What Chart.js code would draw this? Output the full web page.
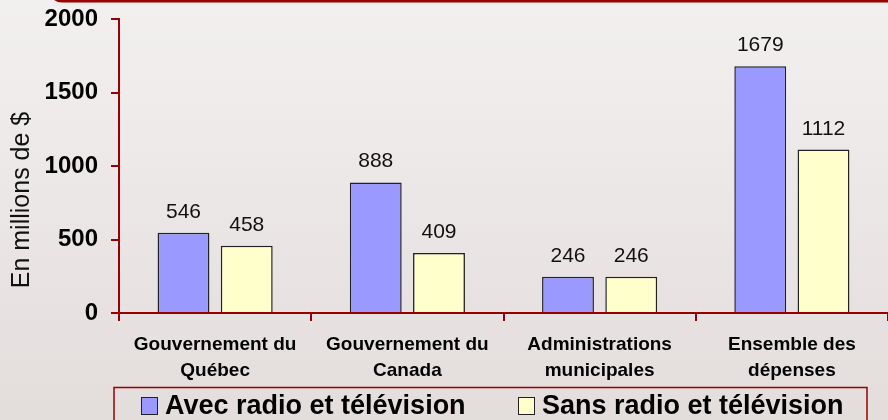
<!DOCTYPE html>
<html>
<head>
<meta charset="utf-8">
<script src="https://cdn.jsdelivr.net/npm/chart.js@4/dist/chart.umd.min.js"></script>
<style>
  html, body { margin: 0; padding: 0; }
  body {
    width: 888px; height: 420px; overflow: hidden;
    background: linear-gradient(#f2f0ef, #e3dddc);
  }
  #wrap { position: relative; width: 888px; height: 420px; }
</style>
</head>
<body>
<div id="wrap"><canvas id="chart" width="888" height="420"></canvas></div>
<script>
// Data
const categories = [
    ["Gouvernement du", "Québec"],
    ["Gouvernement du", "Canada"],
    ["Administrations", "municipales"],
    ["Ensemble des", "dépenses"]
];
const avecRadioTele = [546, 888, 246, 1679];
const sansRadioTele = [458, 409, 246, 1112];
const seriesNames = ["Avec radio et télévision", "Sans radio et télévision"];
const yTicks = [0, 500, 1000, 1500, 2000];
const yTitle = "En millions de $";

const axisRed = "#990000";
const fontFamily = "Arial, 'Liberation Sans', sans-serif";

// value labels above each bar
const valueLabels = {
    id: "valueLabels",
    afterDatasetsDraw(chart) {
        const ctx = chart.ctx;
        ctx.save();
        ctx.font = "21px " + fontFamily;
        ctx.fillStyle = "#111";
        ctx.textAlign = "center";
        ctx.textBaseline = "alphabetic";
        chart.data.datasets.forEach((ds, i) => {
            chart.getDatasetMeta(i).data.forEach((bar, j) => {
                ctx.fillText(ds.data[j], bar.x, bar.y - 15);
            });
        });
        ctx.restore();
    }
};

// y title, legend box and top frame edge
const decorations = {
    id: "decorations",
    afterDraw(chart) {
        const ctx = chart.ctx;
        ctx.save();

        // frame edge at the top
        ctx.strokeStyle = axisRed;
        ctx.lineWidth = 3;
        ctx.beginPath();
        ctx.roundRect(50, -40, 860, 41, 12);
        ctx.stroke();

        // y axis title
        ctx.translate(22, 200);
        ctx.rotate(-Math.PI / 2);
        ctx.font = "25px " + fontFamily;
        ctx.fillStyle = "#111";
        ctx.textAlign = "center";
        ctx.textBaseline = "middle";
        ctx.fillText(yTitle, 0, 0);
        ctx.setTransform(1, 0, 0, 1, 0, 0);

        // legend box
        ctx.strokeStyle = axisRed;
        ctx.lineWidth = 1.5;
        ctx.strokeRect(114, 387.5, 753, 60);

        const itemX = [141, 518];
        ctx.font = "bold 27px " + fontFamily;
        ctx.textAlign = "left";
        ctx.textBaseline = "middle";
        chart.data.datasets.forEach((ds, i) => {
            const x = itemX[i];
            ctx.fillStyle = ds.backgroundColor;
            ctx.fillRect(x, 397, 16, 17);
            ctx.strokeStyle = "#222";
            ctx.lineWidth = 1;
            ctx.strokeRect(x + 0.5, 397.5, 16, 17);
            ctx.fillStyle = "#000";
            ctx.fillText(ds.label, x + 24, 407);
        });
        ctx.restore();
    }
};

const ctx = document.getElementById("chart").getContext("2d");

new Chart(ctx, {
    type: "bar",
    data: {
        labels: categories,
        datasets: [{
            label: seriesNames[0],
            data: avecRadioTele,
            backgroundColor: "#9999ff",
            borderColor: "#222",
            borderWidth: 1.5,
            categoryPercentage: 0.658,
            barPercentage: 0.82
        }, {
            label: seriesNames[1],
            data: sansRadioTele,
            backgroundColor: "#ffffcc",
            borderColor: "#222",
            borderWidth: 1.5,
            categoryPercentage: 0.658,
            barPercentage: 0.82
        }]
    },
    options: {
        responsive: false,
        animation: false,
        layout: { padding: { top: 19, right: 0, left: 0, bottom: 0 } },
        plugins: {
            legend: { display: false },
            tooltip: { enabled: false }
        },
        scales: {
            x: {
                grid: {
                    offset: true,
                    drawOnChartArea: false,
                    color: axisRed,
                    lineWidth: 2,
                    tickLength: 8
                },
                border: { color: axisRed, width: 2 },
                ticks: {
                    color: "#000",
                    font: { family: fontFamily, size: 19, weight: "bold", lineHeight: 1.4 },
                    padding: 10,
                    maxRotation: 0,
                    autoSkip: false
                },
                afterFit(scale) {
                    scale.height = 107;
                    scale.paddingLeft = 0;
                    scale.paddingRight = 0;
                }
            },
            y: {
                min: 0,
                max: 2000,
                afterBuildTicks(scale) {
                    scale.ticks = yTicks.map(v => ({ value: v }));
                },
                grid: {
                    drawOnChartArea: false,
                    color: axisRed,
                    lineWidth: 2,
                    tickLength: 8
                },
                border: { color: axisRed, width: 2 },
                ticks: {
                    color: "#000",
                    font: { family: fontFamily, size: 24, weight: "bold" },
                    padding: 13,
                    callback: v => String(v)
                },
                afterFit(scale) {
                    scale.width = 119;
                    scale.paddingTop = 0;
                    scale.paddingBottom = 0;
                }
            }
        }
    },
    plugins: [valueLabels, decorations]
});
</script>
</body>
</html>
